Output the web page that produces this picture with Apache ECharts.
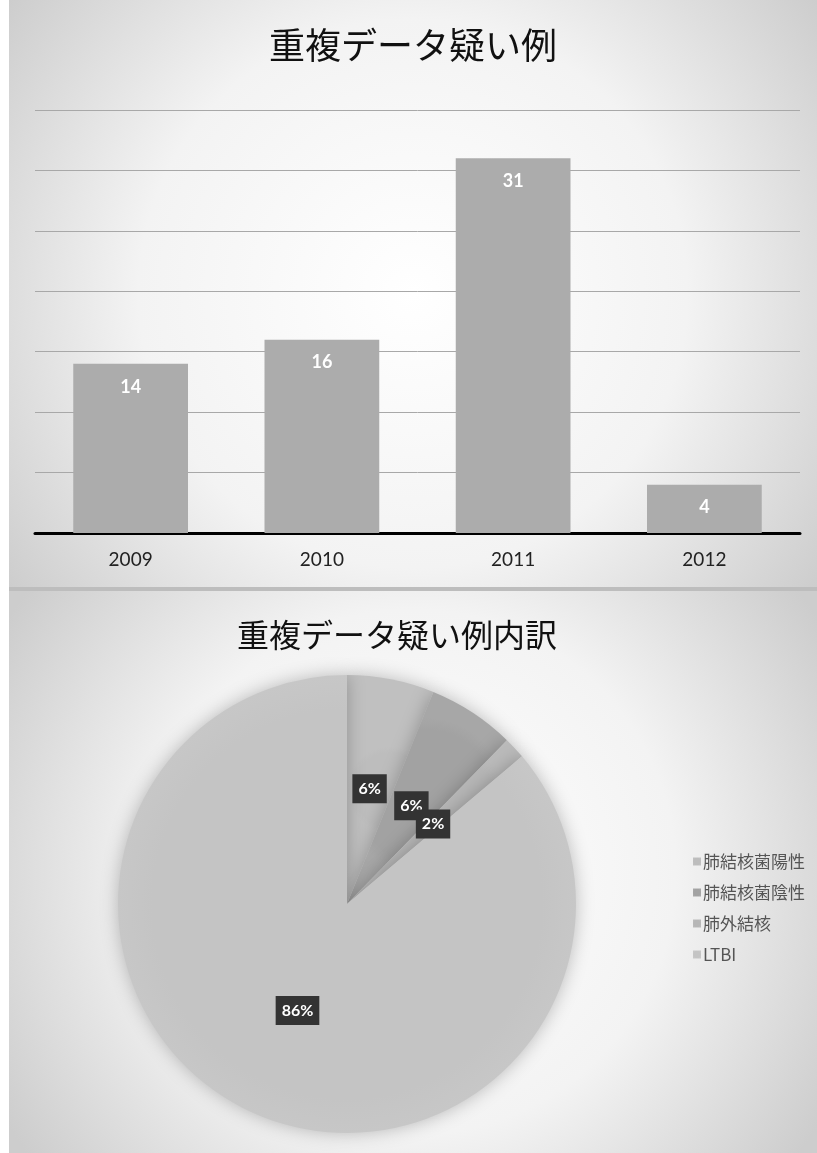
<!DOCTYPE html>
<html>
<head>
<meta charset="utf-8">
<script src="https://cdn.jsdelivr.net/npm/echarts@6/dist/echarts.min.js"></script>
<style>
html,body{margin:0;padding:0;background:#ffffff;}
#chart{width:817px;height:1153px;}
</style>
</head>
<body>
<div id="chart"></div>
<script>
const barTitle = '重複データ疑い例';
const years = ['2009', '2010', '2011', '2012'];
const counts = [14, 16, 31, 4];
const pieTitle = '重複データ疑い例内訳';
const pieNames = ['肺結核菌陽性', '肺結核菌陰性', '肺外結核', 'LTBI'];
const pieValues = [4, 4, 1, 56];
const pieColors = ['#bdbdbd', '#a2a2a2', '#b6b6b6', '#c4c4c4'];

const chart = echarts.init(document.getElementById('chart'), null, {renderer: 'canvas'});
const cjk = '"Noto Sans CJK JP", "Noto Sans", sans-serif';
const latin = 'Lato, "Open Sans", "Noto Sans", sans-serif';

const panelFill = {
  type: 'radial', x: 0.5, y: 0.5, r: 0.85,
  colorStops: [
    {offset: 0, color: '#ffffff'},
    {offset: 0.55, color: '#f3f3f3'},
    {offset: 1, color: '#cdcdcd'}
  ]
};

function sliceFill(c) {
  return {
    type: 'radial', x: 0.5, y: 0.5, r: 0.5,
    colorStops: [
      {offset: 0, color: c},
      {offset: 0.85, color: c},
      {offset: 1, color: echarts.color.lift(c, 0.06)}
    ]
  };
}

chart.setOption({
  backgroundColor: '#ffffff',
  animation: false,
  graphic: [
    {type: 'rect', z: -10, shape: {x: 9, y: 0, width: 808, height: 587}, style: {fill: panelFill}, silent: true},
    {type: 'rect', z: -10, shape: {x: 9, y: 587, width: 808, height: 4}, style: {fill: '#bdbdbd'}, silent: true},
    {type: 'rect', z: -10, shape: {x: 9, y: 591, width: 808, height: 562}, style: {fill: panelFill}, silent: true}
  ],
  title: [
    {text: barTitle, left: 408, top: 22, textAlign: 'center',
     textStyle: {fontFamily: cjk, fontSize: 36, fontWeight: 'normal', color: '#111'}},
    {text: pieTitle, left: 392, top: 614, textAlign: 'center',
     textStyle: {fontFamily: cjk, fontSize: 32, fontWeight: 'normal', color: '#111'}}
  ],
  grid: {left: 35, right: 17, top: 110, bottom: 620, containLabel: false},
  xAxis: {
    type: 'category', data: years,
    axisLine: {show: true, lineStyle: {color: '#000', width: 3}},
    axisTick: {show: false},
    axisLabel: {fontFamily: latin, fontSize: 19, color: '#222', margin: 17}
  },
  yAxis: {
    type: 'value', min: 0, max: 35, interval: 5,
    axisLabel: {show: false}, axisLine: {show: false}, axisTick: {show: false},
    splitLine: {lineStyle: {color: '#a8a8a8', width: 1}}
  },
  legend: {
    orient: 'vertical', left: 688, top: 848, itemGap: 14,
    itemWidth: 8, itemHeight: 8, icon: 'rect',
    data: pieNames,
    textStyle: {fontFamily: cjk, fontSize: 17, color: '#555', padding: [0, 0, 0, -3]}
  },
  series: [
    {
      type: 'bar', data: counts, barCategoryGap: '40%',
      itemStyle: {color: '#acacac'},
      label: {show: true, position: 'insideTop', distance: 14,
        fontFamily: latin, fontSize: 18, fontWeight: 'bold', color: '#ffffff'}
    },
    {
      type: 'pie', center: [347, 904], radius: 229,
      startAngle: 90, clockwise: true,
      avoidLabelOverlap: false,
      minShowLabelAngle: 0,
      labelLayout: {hideOverlap: false},
      data: pieNames.map((n, i) => ({name: n, value: pieValues[i], itemStyle: {color: sliceFill(pieColors[i])}})),
      itemStyle: {shadowBlur: 18, shadowColor: 'rgba(0,0,0,0.25)', borderWidth: 0},
      label: {
        show: true, position: 'inside',
        formatter: p => Math.round(p.percent) + '%',
        backgroundColor: '#333333', padding: [7, 6, 6, 6],
        fontFamily: latin, fontSize: 16, fontWeight: 'bold', color: '#ffffff'
      },
      labelLine: {show: false},
      emphasis: {disabled: true}
    }
  ]
});
</script>
</body>
</html>
